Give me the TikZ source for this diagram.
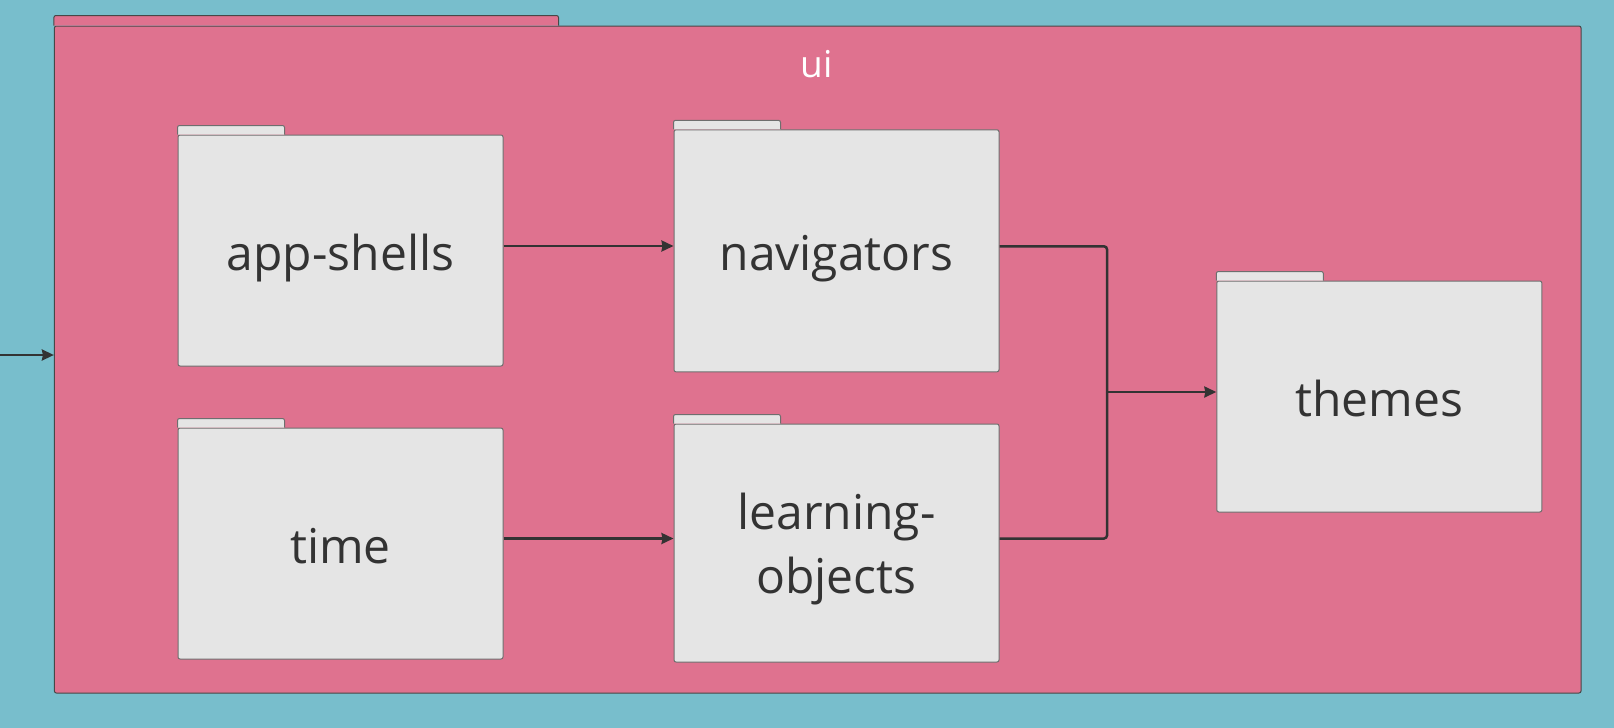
\documentclass[tikz,border=0pt]{standalone}
\usepackage{fontspec}
\setmainfont{Open Sans}
\usetikzlibrary{arrows.meta,calc}
\definecolor{bgteal}{HTML}{78BECC}
\definecolor{uipink}{HTML}{DF728F}
\definecolor{pkgfill}{HTML}{E5E5E5}
\definecolor{pkgline}{HTML}{6E6E6E}
\definecolor{ink}{HTML}{333333}
\tikzset{
  pkgbox/.style={draw=pkgline, fill=pkgfill, line width=1pt, rounded corners=2pt,
    minimum width=325pt, inner sep=0pt, align=center, text=ink,
    font=\fontsize{48}{64}\selectfont},
  oneline/.style={text height=52pt, text depth=12pt},
  pkgtab/.style={draw=pkgline, fill=pkgfill, line width=1pt, rounded corners=2pt},
  uibox/.style={draw=ink!90, fill=uipink, line width=1pt, rounded corners=2pt, inner sep=0pt},
  link/.style={draw=ink, line width=2.5pt, rounded corners=3pt},
  edge/.style={link, -{Stealth[length=12pt,width=11pt,inset=1pt]}}
}
\begin{document}
\begin{tikzpicture}[x=1pt,y=-1pt]
\fill[bgteal] (0,0) rectangle (1614,728);
\useasboundingbox (0,0) rectangle (1614,728);
% ui container
\node[uibox, minimum width=1526.6pt, minimum height=667pt] (ui) at (817.7,359.5) {};
\draw[uibox] (ui.north west) -- ++(0,-10) -- ++(504.6,0) -- ++(0,10);
\node[text=white, font=\fontsize{37}{44}\selectfont] (uilabel) at (816.5,64) {ui};
% packages
\node[pkgbox, oneline, minimum height=231pt] (app) at (340.5,250.5) {app-shells};
\node[pkgbox, oneline, minimum height=242pt] (nav) at (836.5,250.8) {navigators};
\node[pkgbox, oneline, minimum height=231pt] (time) at (340.5,543.5) {time};
\node[pkgbox, minimum height=238pt] (learn) at (836.5,543) {\rule{0pt}{49pt}learning-\\objects};
\node[pkgbox, oneline, minimum height=231pt] (themes) at (1379.3,396.5) {themes};
\foreach \n in {app,nav,time,learn,themes}{
  \draw[pkgtab] (\n.north west) -- ++(0,-9) -- ++(107,0) -- ++(0,9);
}
% connectors
\coordinate (src) at (0,355);
\draw[edge] (src) -- (src -| ui.west);
\coordinate (a1) at ([yshift=4.5pt]app.east);
\draw[edge] (a1) -- (a1 -| nav.west);
\coordinate (t1) at ([yshift=5pt]time.east);
\draw[edge] (t1) -- (t1 -| learn.west);
\coordinate (n1) at ([yshift=4.5pt]nav.east);
\coordinate (l1) at ([yshift=4.5pt]learn.east);
\coordinate (j) at (1107,392);
\draw[link] (n1) -| (j);
\draw[link] (l1) -| (j);
\draw[edge] (j) -- (j -| themes.west);
\end{tikzpicture}
\end{document}
